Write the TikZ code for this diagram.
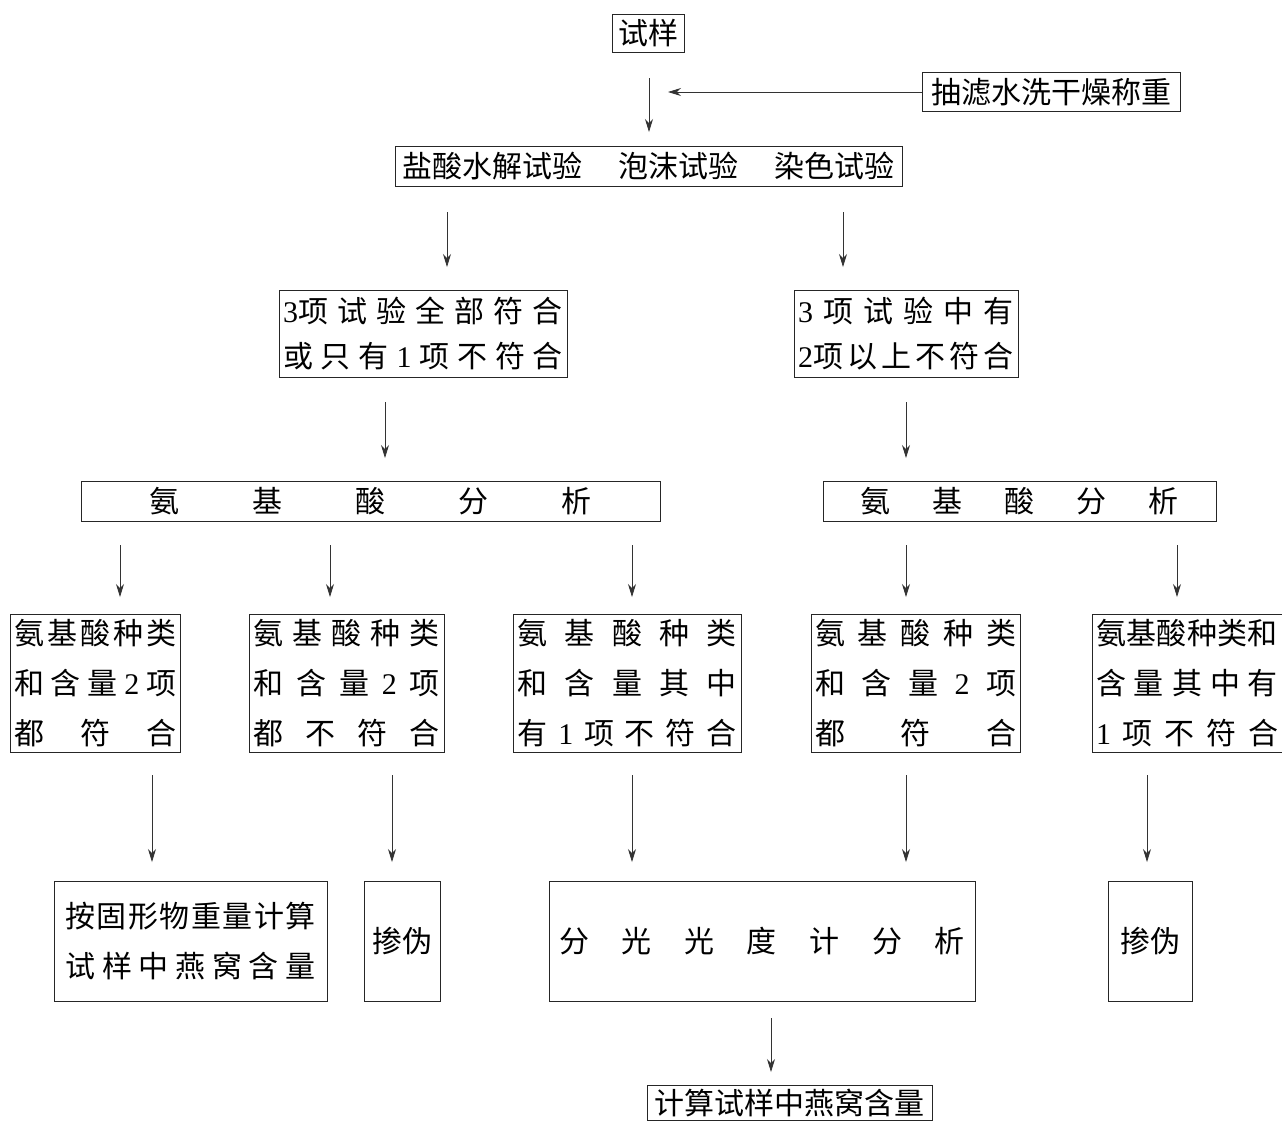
\documentclass[tikz,border=0pt]{standalone}
\usepackage{fontspec}
\setmainfont{Liberation Serif}
\newfontfamily\cjk{Noto Sans CJK SC}
\usetikzlibrary{arrows.meta}
\newcommand{\spl}[2]{\makebox[#1pt][s]{#2}}
\newcommand{\dg}[1]{{\rmfamily #1}}
\begin{document}
\begin{tikzpicture}[x=1pt,y=-1pt,
  box/.style={draw=black!85, line width=1pt, inner sep=0pt, align=center,
    font=\cjk\fontsize{30}{50}\selectfont},
  twoline/.style={font=\cjk\fontsize{30}{45}\selectfont},
  arr/.style={draw=black!80, line width=0.8pt, -{Stealth[length=13pt,width=8pt]}}]
\useasboundingbox (0,0) rectangle (1282,1120);
% row 0
\node[box, minimum width=72, minimum height=38] (n1) at (648,33) {试样};
\node[box, minimum width=258, minimum height=39] (n2) at (1051,92) {抽滤水洗干燥称重};
\node[box, minimum width=507, minimum height=40] (n3) at (648.5,166)
  {盐酸水解试验\hspace{36pt}泡沫试验\hspace{36pt}染色试验};
% row 1
\node[box, twoline, minimum width=288, minimum height=87] (n4) at (423,333.5)
  {\spl{280}{\dg{3}项\hfill 试\hfill 验\hfill 全\hfill 部\hfill 符\hfill 合}\\
   \spl{280}{或\hfill 只\hfill 有\hfill \dg{1}\hfill 项\hfill 不\hfill 符\hfill 合}};
\node[box, twoline, minimum width=224, minimum height=87] (n5) at (906,333.5)
  {\spl{216}{\dg{3}\hfill 项\hfill 试\hfill 验\hfill 中\hfill 有}\\
   \spl{216}{\dg{2}项\hfill 以\hfill 上\hfill 不\hfill 符\hfill 合}};
% row 2
\node[box, minimum width=579, minimum height=40] (n6) at (370.5,501)
  {\spl{443}{氨\hfill 基\hfill 酸\hfill 分\hfill 析}};
\node[box, minimum width=393, minimum height=40] (n7) at (1019.5,501)
  {\spl{318}{氨\hfill 基\hfill 酸\hfill 分\hfill 析}};
% row 3
\node[box, minimum width=170, minimum height=138] (n8) at (95,683)
  {\spl{162}{氨\hfill 基\hfill 酸\hfill 种\hfill 类}\\
   \spl{162}{和\hfill 含\hfill 量\hfill \dg{2}\hfill 项}\\
   \spl{162}{都\hfill 符\hfill 合}};
\node[box, minimum width=195, minimum height=138] (n9) at (346.5,683)
  {\spl{186}{氨\hfill 基\hfill 酸\hfill 种\hfill 类}\\
   \spl{186}{和\hfill 含\hfill 量\hfill \dg{2}\hfill 项}\\
   \spl{186}{都\hfill 不\hfill 符\hfill 合}};
\node[box, minimum width=228, minimum height=138] (n10) at (627,683)
  {\spl{219}{氨\hfill 基\hfill 酸\hfill 种\hfill 类}\\
   \spl{219}{和\hfill 含\hfill 量\hfill 其\hfill 中}\\
   \spl{219}{有\hfill \dg{1}\hfill 项\hfill 不\hfill 符\hfill 合}};
\node[box, minimum width=209, minimum height=138] (n11) at (915.5,683)
  {\spl{201}{氨\hfill 基\hfill 酸\hfill 种\hfill 类}\\
   \spl{201}{和\hfill 含\hfill 量\hfill \dg{2}\hfill 项}\\
   \spl{201}{都\hfill 符\hfill 合}};
\node[box, minimum width=190, minimum height=138] (n12) at (1187,683)
  {\spl{182}{氨\hfill 基\hfill 酸\hfill 种\hfill 类\hfill 和}\\
   \spl{182}{含\hfill 量\hfill 其\hfill 中\hfill 有}\\
   \spl{182}{\dg{1}\hfill 项\hfill 不\hfill 符\hfill 合}};
% row 4
\node[box, minimum width=273, minimum height=120] (n13) at (190.5,941)
  {\spl{250}{按\hfill 固\hfill 形\hfill 物\hfill 重\hfill 量\hfill 计\hfill 算}\\
   \spl{250}{试\hfill 样\hfill 中\hfill 燕\hfill 窝\hfill 含\hfill 量}};
\node[box, minimum width=76, minimum height=120] (n14) at (402,941) {掺伪};
\node[box, minimum width=426, minimum height=120] (n15) at (762,941)
  {\spl{406}{分\hfill 光\hfill 光\hfill 度\hfill 计\hfill 分\hfill 析}};
\node[box, minimum width=84, minimum height=120] (n16) at (1150,941) {掺伪};
% row 5
\node[box, minimum width=285, minimum height=35] (n17) at (789.5,1102.5) {计算试样中燕窝含量};
% arrow ends
\coordinate (a1s) at (649,78);   \coordinate (a1e) at (649,132);
\coordinate (h1e) at (668,92);
\coordinate (a2s) at (447,212);  \coordinate (a2e) at (447,267);
\coordinate (a3s) at (843,212);  \coordinate (a3e) at (843,267);
\coordinate (a4s) at (385,402);  \coordinate (a4e) at (385,458);
\coordinate (a5s) at (906,402);  \coordinate (a5e) at (906,458);
\coordinate (b1s) at (120,545);  \coordinate (b1e) at (120,597);
\coordinate (b2s) at (330,545);  \coordinate (b2e) at (330,597);
\coordinate (b3s) at (632,545);  \coordinate (b3e) at (632,597);
\coordinate (b4s) at (906,545);  \coordinate (b4e) at (906,597);
\coordinate (b5s) at (1177,545); \coordinate (b5e) at (1177,597);
\coordinate (c1s) at (152,775);  \coordinate (c1e) at (152,862);
\coordinate (c2s) at (392,775);  \coordinate (c2e) at (392,862);
\coordinate (c3s) at (632,775);  \coordinate (c3e) at (632,862);
\coordinate (c4s) at (906,775);  \coordinate (c4e) at (906,862);
\coordinate (c5s) at (1147,775); \coordinate (c5e) at (1147,862);
\coordinate (d1s) at (771,1018); \coordinate (d1e) at (771,1072);
% arrows
\draw[arr] (a1s) -- (a1e);
\draw[arr] (n2.west) -- (h1e);
\foreach \p in {a2,a3,a4,a5,b1,b2,b3,b4,b5,c1,c2,c3,c4,c5,d1}
  \draw[arr] (\p s) -- (\p e);
\end{tikzpicture}
\end{document}
